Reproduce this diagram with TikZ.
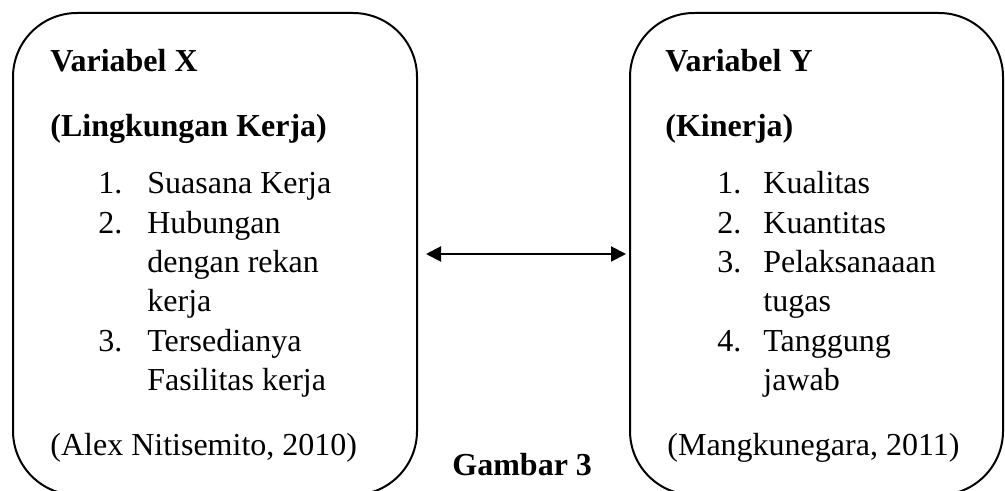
\documentclass[tikz,border=0pt]{standalone}
\usepackage{fontspec}
\setmainfont{Liberation Serif}
\usetikzlibrary{arrows.meta}
\tikzset{
  varbox/.style={draw, line width=1pt, rounded corners=32pt, minimum width=202pt, minimum height=241pt, inner sep=0pt},
  txt/.style={anchor=base west, inner sep=0pt, font=\fontsize{16}{19.65}\selectfont},
  hd/.style={txt, font=\fontsize{16}{19.65}\selectfont\bfseries}
}

\begin{document}
\begin{tikzpicture}[x=0.5pt, y=-0.5pt]
\useasboundingbox (0,0) rectangle (1005,491);
\clip (0,0) rectangle (1005,491);
% boxes
\node [varbox] (boxX) at (215,254) {};
\node [varbox, minimum width=186.5pt] (boxY) at (816.5,254) {};
\draw [{Triangle[length=7.5pt,width=7.5pt]}-{Triangle[length=7.5pt,width=7.5pt]}, line width=1pt, shorten <=4pt, shorten >=1.5pt] (boxX.east) -- (boxY.west);
% variabel X
\node [hd] (titleX) at (50,72) {Variabel X};
\node [hd] (subX) at (50,137) {(Lingkungan Kerja)};
\node [txt] (listX) at (98,194) {\begin{tabular}[t]{@{}p{24.5pt}@{}l@{}}
1. & Suasana Kerja\\
2. & Hubungan\\
   & dengan rekan\\
   & kerja\\
3. & Tersedianya\\
   & Fasilitas kerja
\end{tabular}};
\node [txt] (srcX) at (50,455) {(Alex Nitisemito, 2010)};
% variabel Y
\node [hd] (titleY) at (665,72) {Variabel Y};
\node [hd] (subY) at (665,137) {(Kinerja)};
\node [txt] (listY) at (717,194) {\begin{tabular}[t]{@{}p{23pt}@{}l@{}}
1. & Kualitas\\
2. & Kuantitas\\
3. & Pelaksanaaan\\
   & tugas\\
4. & Tanggung\\
   & jawab
\end{tabular}};
\node [txt] (srcY) at (667,455) {(Mangkunegara, 2011)};
\node [hd] (cap) at (452,475) {Gambar 3};
\end{tikzpicture}
\end{document}
